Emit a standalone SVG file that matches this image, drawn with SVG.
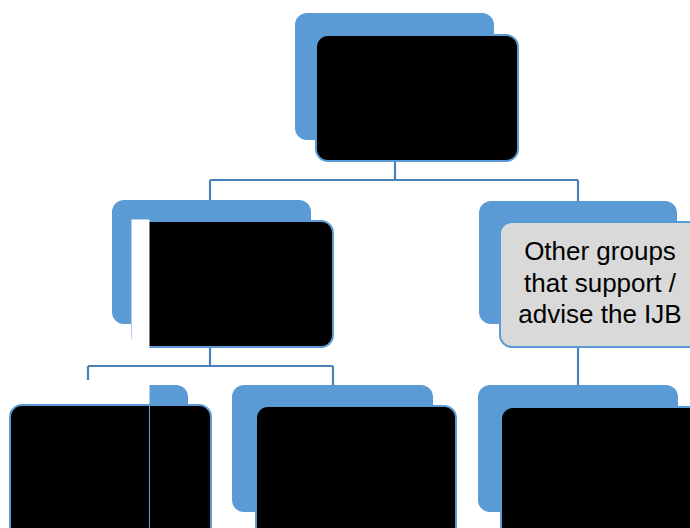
<svg xmlns="http://www.w3.org/2000/svg" width="690" height="528" viewBox="0 0 690 528">
<style>
.back{fill:#5b9bd5;}
.front{fill:#000000;stroke:#5b9bd5;stroke-width:2;}
.grey{fill:#d9d9d9;stroke:#5b9bd5;stroke-width:2;}
.conn{fill:none;stroke:#4a80b8;stroke-width:2.2;}
.cover{fill:#ffffff;}
.lbl{font-family:"Liberation Sans",Arial,sans-serif;font-size:26px;fill:#000000;text-anchor:middle;}
</style>
<rect width="690" height="528" fill="#ffffff"/>
<g id="connectors">
<path class="conn" d="M395,161 V180 M210,180 H578 M210,180 V201 M578,180 V201"/>
<path class="conn" d="M210,348 V366 M88,366 H333 M88,366 V386 M333,366 V386"/>
<path class="conn" d="M578,347 V386"/>
</g>
<g id="node-top">
<rect class="back" x="295" y="13" width="199" height="127" rx="12"/>
<rect class="front" x="316" y="35" width="202" height="126" rx="12"/>
</g>
<g id="node-mid-left">
<rect class="back" x="112" y="200" width="199" height="124" rx="12"/>
<rect class="front" x="132" y="221" width="201" height="126" rx="12"/>
<rect class="cover" x="131.5" y="219.5" width="18" height="130"/>
</g>
<g id="node-mid-right">
<rect class="back" x="479" y="201" width="198" height="123" rx="12"/>
<rect class="grey" x="500" y="222" width="202" height="125" rx="12"/>
<text class="lbl" x="600" y="260">Other groups</text>
<text class="lbl" x="600" y="292">that support /</text>
<text class="lbl" x="600" y="323">advise the IJB</text>
</g>
<g id="node-bottom-left">
<rect class="back" x="-12" y="385" width="200" height="127" rx="12"/>
<rect class="cover" x="0" y="380" width="149.5" height="148"/>
<rect class="front" x="10" y="405" width="201" height="140" rx="12"/>
<line x1="149.5" y1="406" x2="149.5" y2="528" stroke="#6a9fd4" stroke-width="1"/>
</g>
<g id="node-bottom-mid">
<rect class="back" x="232" y="385" width="201" height="127" rx="12"/>
<rect class="front" x="256" y="406" width="200" height="140" rx="12"/>
</g>
<g id="node-bottom-right">
<rect class="back" x="478" y="385" width="200" height="127" rx="12"/>
<rect class="front" x="501" y="407" width="202" height="140" rx="12"/>
</g>
</svg>
